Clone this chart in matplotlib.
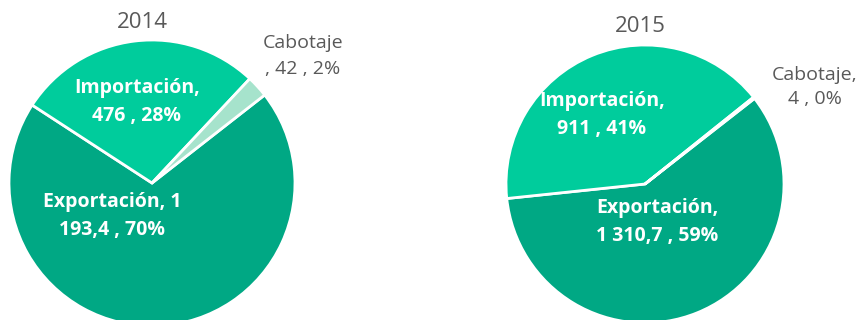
import matplotlib.pyplot as plt

# Data
categories = ["Exportación", "Importación", "Cabotaje"]
values_2014 = [1193.4, 476, 42]
values_2015 = [1310.7, 911, 4]
labels_2014 = ["Exportación, 1\n193,4 , 70%", "Importación,\n476 , 28%", "Cabotaje\n, 42 , 2%"]
labels_2015 = ["Exportación,\n1 310,7 , 59%", "Importación,\n911 , 41%", "Cabotaje,\n4 , 0%"]

colors = ["#00A884", "#00CC9C", "#A6E3CC"]
label_colors = ["white", "white", "#595959"]

plt.rcParams['font.family'] = ['Open Sans', 'DejaVu Sans']

W, H = 861, 320
fig = plt.figure(figsize=(W / 100, H / 100), dpi=100)
ax = fig.add_axes([0, 0, 1, 1])
ax.set_xlim(0, W)
ax.set_ylim(0, H)
ax.set_aspect('equal')
ax.axis('off')

# (center x, center y from top, radius, title pos, label positions from top)
charts = [
    (values_2014, labels_2014, "2014", (152, 183), 143, (142, 22),
     [(112, 216), (137, 102), (303, 56)]),
    (values_2015, labels_2015, "2015", (645, 184), 139, (640, 27),
     [(657, 222), (602, 115), (815, 87)]),
]

for vals, labs, year, (cx, cy), r, (tx, ty), lpos in charts:
    ax.pie(vals, colors=colors, startangle=38, counterclock=False,
           center=(cx, H - cy), radius=r,
           wedgeprops=dict(edgecolor="white", linewidth=2))
    ax.text(tx, H - ty, year, ha="center", va="center", fontsize=16,
            color="#595959")
    for lab, (lx, ly), c in zip(labs, lpos, label_colors):
        white = c == "white"
        ax.text(lx, H - ly, lab, ha="center", va="center",
                fontsize=14, color=c, linespacing=1.5,
                fontweight="bold" if white else "normal")

ax.set_xlim(0, W)
ax.set_ylim(0, H)
fig.savefig("out.png", dpi=100)
